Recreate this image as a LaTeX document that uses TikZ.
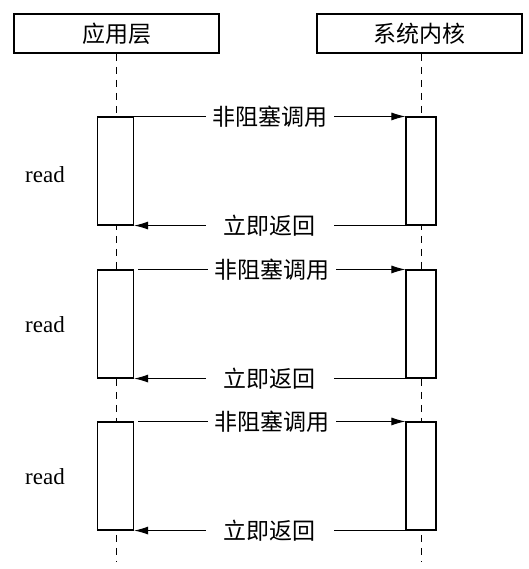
\documentclass[tikz,border=0pt]{standalone}
\usepackage{fontspec}
\setmainfont{Liberation Serif}
\newfontfamily\cjk{Noto Sans CJK SC}
\usetikzlibrary{arrows.meta,positioning,calc}
\tikzset{
  headbox/.style={draw,line width=1.6pt,minimum width=205pt,minimum height=39pt,inner sep=0pt,font=\cjk\fontsize{23}{23}\selectfont},
  actbox/.style={draw,fill=white,line width=1.1pt,minimum height=108pt,inner sep=0pt},
  lifeline/.style={dashed,dash pattern=on 7pt off 6pt,line width=1pt},
  msgarrow/.style={-{Latex[length=14pt,width=8pt]},line width=1pt},
  msglabel/.style={fill=white,inner sep=0pt,minimum width=128pt,minimum height=26pt,font=\cjk\fontsize{23}{23}\selectfont},
  readlabel/.style={font=\fontsize{23}{23}\selectfont}
}
\begin{document}
\begin{tikzpicture}[x=1pt,y=-1pt]
  \useasboundingbox (0,0) rectangle (528,569);
  \node[headbox] (app) at (116.5,33.5) {应用层};
  \node[headbox] (kernel) at (419.5,33.5) {系统内核};
  \coordinate (append) at (116,562);
  \coordinate (kernelend) at (421,562);
  \draw[lifeline] (app.south) -- (app.south |- append);
  \draw[lifeline] (kernel.south -| kernelend) -- (kernelend);
  % three read rounds
  \node[actbox,minimum width=36pt] (a1) at (115.5,171) {};
  \node[actbox,minimum width=30pt] (k1) at (421,171) {};
  \node[actbox,minimum width=36pt] (a2) at (115.5,324) {};
  \node[actbox,minimum width=30pt] (k2) at (421,324) {};
  \node[actbox,minimum width=36pt] (a3) at (115.5,476) {};
  \node[actbox,minimum width=30pt] (k3) at (421,476) {};
  \node[readlabel] (r1) at (45,175) {read};
  \node[readlabel] (r2) at (45,325) {read};
  \node[readlabel] (r3) at (45,477) {read};
  \draw[msgarrow] (a1.north east) -- node[msglabel] {非阻塞调用} (k1.north west);
  \draw[msgarrow] (k1.south west) -- node[msglabel] {立即返回} (a1.south east);
  \draw[msgarrow] ($(a2.north east)+(4,0)$) -- node[msglabel] {非阻塞调用} (k2.north west);
  \draw[msgarrow] (k2.south west) -- node[msglabel] {立即返回} (a2.south east);
  \draw[msgarrow] ($(a3.north east)+(4,0)$) -- node[msglabel] {非阻塞调用} (k3.north west);
  \draw[msgarrow] (k3.south west) -- node[msglabel] {立即返回} (a3.south east);
\end{tikzpicture}
\end{document}
